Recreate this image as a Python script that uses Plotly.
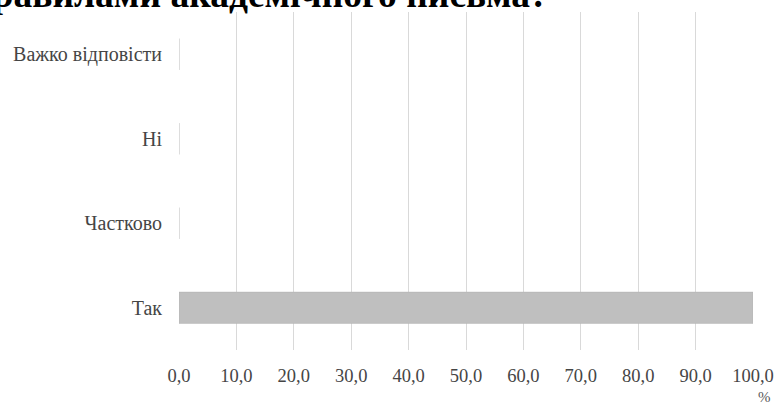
import plotly.graph_objects as go

categories = ["Так", "Частково", "Ні", "Важко відповісти"]
values = [100.0, 0.0, 0.0, 0.0]
x_ticks = [0, 10, 20, 30, 40, 50, 60, 70, 80, 90, 100]
x_tick_labels = ["0,0", "10,0", "20,0", "30,0", "40,0", "50,0", "60,0", "70,0", "80,0", "90,0", "100,0"]
title_text = "правилами академічного письма?"

W, H = 778, 405
ml, mr, mt, mb = 179, 25, 12, 55
pw = W - ml - mr
ph = H - mt - mb

fig = go.Figure(go.Bar(
    y=categories, x=values, orientation="h",
    marker=dict(color="#bfbfbf", line=dict(color="#b0b0b0", width=0.5)),
    width=0.37,
))

serif = "Liberation Serif, Times New Roman, serif"
tick_color = "#454545"

fig.update_layout(
    width=W, height=H,
    margin=dict(l=ml, r=mr, t=mt, b=mb, autoexpand=False),
    paper_bgcolor="white", plot_bgcolor="white",
    showlegend=False,
    font=dict(family=serif, size=19, color=tick_color),
    xaxis=dict(
        range=[0, 100], tickvals=x_ticks, ticktext=x_tick_labels,
        showgrid=True, gridcolor="#d9d9d9", gridwidth=1,
        zeroline=False, showline=False, automargin=False,
        ticks="outside", ticklen=9, tickcolor="rgba(0,0,0,0)",
        tickfont=dict(family=serif, size=18.5, color=tick_color),
    ),
    yaxis=dict(
        categoryorder="array", categoryarray=categories,
        range=[-0.5, 3.5], automargin=False,
        showgrid=False, zeroline=False, showline=False,
        ticks="outside", ticklen=12, tickcolor="rgba(0,0,0,0)",
        tickfont=dict(family=serif, size=20, color=tick_color),
    ),
)

fig.add_annotation(
    text="<b>" + title_text + "</b>", xref="paper", yref="paper",
    x=(-31 - ml) / pw, y=(ph + mt - 17.5) / ph,
    xanchor="left", yanchor="bottom", showarrow=False,
    font=dict(family=serif, size=37.5, color="#000000"),
)

fig.add_annotation(
    text="%", xref="paper", yref="paper",
    x=(764 - ml) / pw, y=(ph - (397 - mt)) / ph,
    xanchor="center", yanchor="middle", showarrow=False,
    font=dict(family=serif, size=15, color="#595959"),
)

fig.write_html(
    "out.html",
    config={"displayModeBar": False},
    post_script="document.body.style.margin='0';document.documentElement.style.overflow='hidden';",
)
